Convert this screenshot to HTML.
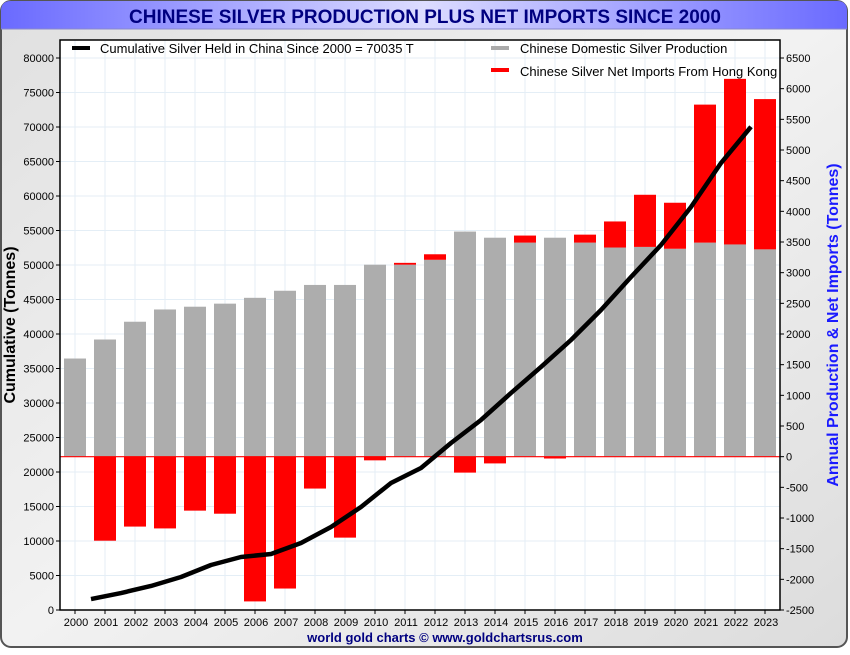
<!DOCTYPE html>
<html><head><meta charset="utf-8"><style>
body{margin:0;width:850px;height:650px;overflow:hidden;background:#fff;font-family:"Liberation Sans",sans-serif}
</style></head><body>
<svg id="chart" width="850" height="650" xmlns="http://www.w3.org/2000/svg" font-family="Liberation Sans, sans-serif">
<defs>
<linearGradient id="bg" x1="0" y1="0" x2="1" y2="1"><stop offset="0" stop-color="#e0e0e0"/><stop offset="0.5" stop-color="#f2f2f2"/><stop offset="1" stop-color="#dcdcdc"/></linearGradient>
<linearGradient id="tb" x1="0" y1="0" x2="1" y2="0"><stop offset="0" stop-color="#6a6aff"/><stop offset="0.5" stop-color="#dcdcff"/><stop offset="1" stop-color="#6a6aff"/></linearGradient>
</defs>
<rect x="1" y="1" width="846" height="646" rx="10" fill="url(#bg)" stroke="#555" stroke-width="2"/>
<path d="M1 29 V11 Q1 1 11 1 H837 Q847 1 847 11 V29 Z" fill="url(#tb)"/>
<line x1="1" y1="29" x2="847" y2="29" stroke="#8888cc" stroke-width="1"/>
<text x="425" y="23" text-anchor="middle" font-size="19" font-weight="bold" fill="#000080">CHINESE SILVER PRODUCTION PLUS NET IMPORTS SINCE 2000</text>
<rect x="60" y="40" width="720" height="570" fill="#fff"/>
<g id="grid"></g><g id="bars"></g><g id="line"></g><g id="axes"></g>
<text transform="translate(15,325) rotate(-90)" text-anchor="middle" font-size="16" font-weight="bold" fill="#000">Cumulative (Tonnes)</text>
<text transform="translate(838,325) rotate(-90)" text-anchor="middle" font-size="16" font-weight="bold" fill="#1a1aff">Annual Production &amp; Net Imports (Tonnes)</text>
<text x="445" y="642" text-anchor="middle" font-size="13" font-weight="bold" fill="#000080">world gold charts © www.goldchartsrus.com</text>
<g>
<rect x="72" y="46" width="18" height="4" fill="#000"/>
<text x="100" y="53" font-size="13" fill="#000">Cumulative Silver Held in China Since 2000 = 70035 T</text>
<rect x="491" y="46" width="18" height="4" fill="#aaa"/>
<text x="520" y="53" font-size="13" fill="#000">Chinese Domestic Silver Production</text>
<rect x="491" y="68" width="18" height="4" fill="#f00"/>
<text x="520" y="76" font-size="13" fill="#000">Chinese Silver Net Imports From Hong Kong</text>
</g>
</svg>
<script>
const years=[2000,2001,2002,2003,2004,2005,2006,2007,2008,2009,2010,2011,2012,2013,2014,2015,2016,2017,2018,2019,2020,2021,2022,2023];
const production=[1600,1910,2200,2400,2445,2495,2590,2705,2800,2800,3130,3130,3210,3670,3570,3490,3570,3490,3410,3420,3390,3490,3460,3380];
const netImports=[0,-1370,-1140,-1170,-880,-930,-2360,-2150,-520,-1320,-60,30,90,-260,-110,115,-30,130,425,850,750,2250,2700,2450];
const cumulative=[null,1590,2460,3480,4780,6520,7680,8120,9710,12030,14930,18410,20580,24200,27540,31450,35220,39130,43480,48260,52900,58410,64780,70035];
const leftTicks=[0,5000,10000,15000,20000,25000,30000,35000,40000,45000,50000,55000,60000,65000,70000,75000,80000];
const rightTicks=[-2500,-2000,-1500,-1000,-500,0,500,1000,1500,2000,2500,3000,3500,4000,4500,5000,5500,6000,6500];
const NS="http://www.w3.org/2000/svg";
const X0=60,X1=780,Y0=40,Y1=610;
const yL=v=>610-v*552/80000;
const yR=v=>610-(v+2500)*552/9000;
const xC=i=>75+i*30;
function mk(p,tag,at){const e=document.createElementNS(NS,tag);for(const k in at)e.setAttribute(k,at[k]);p.appendChild(e);return e;}
const grid=document.getElementById('grid'),bars=document.getElementById('bars'),line=document.getElementById('line'),axes=document.getElementById('axes');
years.forEach((y,i)=>{const g=mk(grid,'line',{x1:xC(i),x2:xC(i),y1:Y0,y2:Y1,stroke:'#e4eef6'});

});
leftTicks.forEach(t=>{const g=mk(grid,'line',{x1:X0,x2:X1,y1:yL(t),y2:yL(t),stroke:'#e4eef6'});

});
const bw=22;
years.forEach((y,i)=>{
 const b=mk(bars,'rect',{x:xC(i)-bw/2,y:yR(production[i]),width:bw,height:yR(0)-yR(production[i]),fill:'#adadad'});
 
 
 const v=netImports[i];
 if(v!==0){let top,h;
  if(v>0){top=yR(production[i]+v);h=yR(production[i])-top;}else{top=yR(0);h=yR(v)-yR(0);}
  const r=mk(bars,'rect',{x:xC(i)-bw/2,y:top,width:bw,height:h,fill:'#ff0000'});
  
  }
});
const zl=mk(bars,'line',{x1:X0,x2:X1,y1:yR(0),y2:yR(0),stroke:'#ff0000','stroke-width':1.2});


let pts=[];cumulative.forEach((c,i)=>{if(c!==null)pts.push((xC(i)-14)+','+yL(c));});
const pl=mk(line,'polyline',{points:pts.join(' '),fill:'none',stroke:'#000','stroke-width':4.5,'stroke-linejoin':'round'});


const fr=mk(axes,'rect',{x:X0,y:Y0,width:X1-X0,height:Y1-Y0,fill:'none',stroke:'#000','stroke-width':1.5});


leftTicks.forEach(t=>{mk(axes,'line',{x1:X0-4,x2:X0,y1:yL(t),y2:yL(t),stroke:'#000'});
 const tx=mk(axes,'text',{x:X0-6,y:yL(t)+4,'text-anchor':'end','font-size':11});tx.textContent=t;
 
 });
rightTicks.forEach(t=>{mk(axes,'line',{x1:X1,x2:X1+4,y1:yR(t),y2:yR(t),stroke:'#000'});
 const tx=mk(axes,'text',{x:X1+6,y:yR(t)+4,'font-size':11});tx.textContent=t;
 
 });
years.forEach((y,i)=>{mk(axes,'line',{x1:xC(i),x2:xC(i),y1:Y1,y2:Y1+4,stroke:'#000'});
 const tx=mk(axes,'text',{x:xC(i)+1,y:Y1+16,'text-anchor':'middle','font-size':11});tx.textContent=y;
 
 });
</script>
</body></html>
